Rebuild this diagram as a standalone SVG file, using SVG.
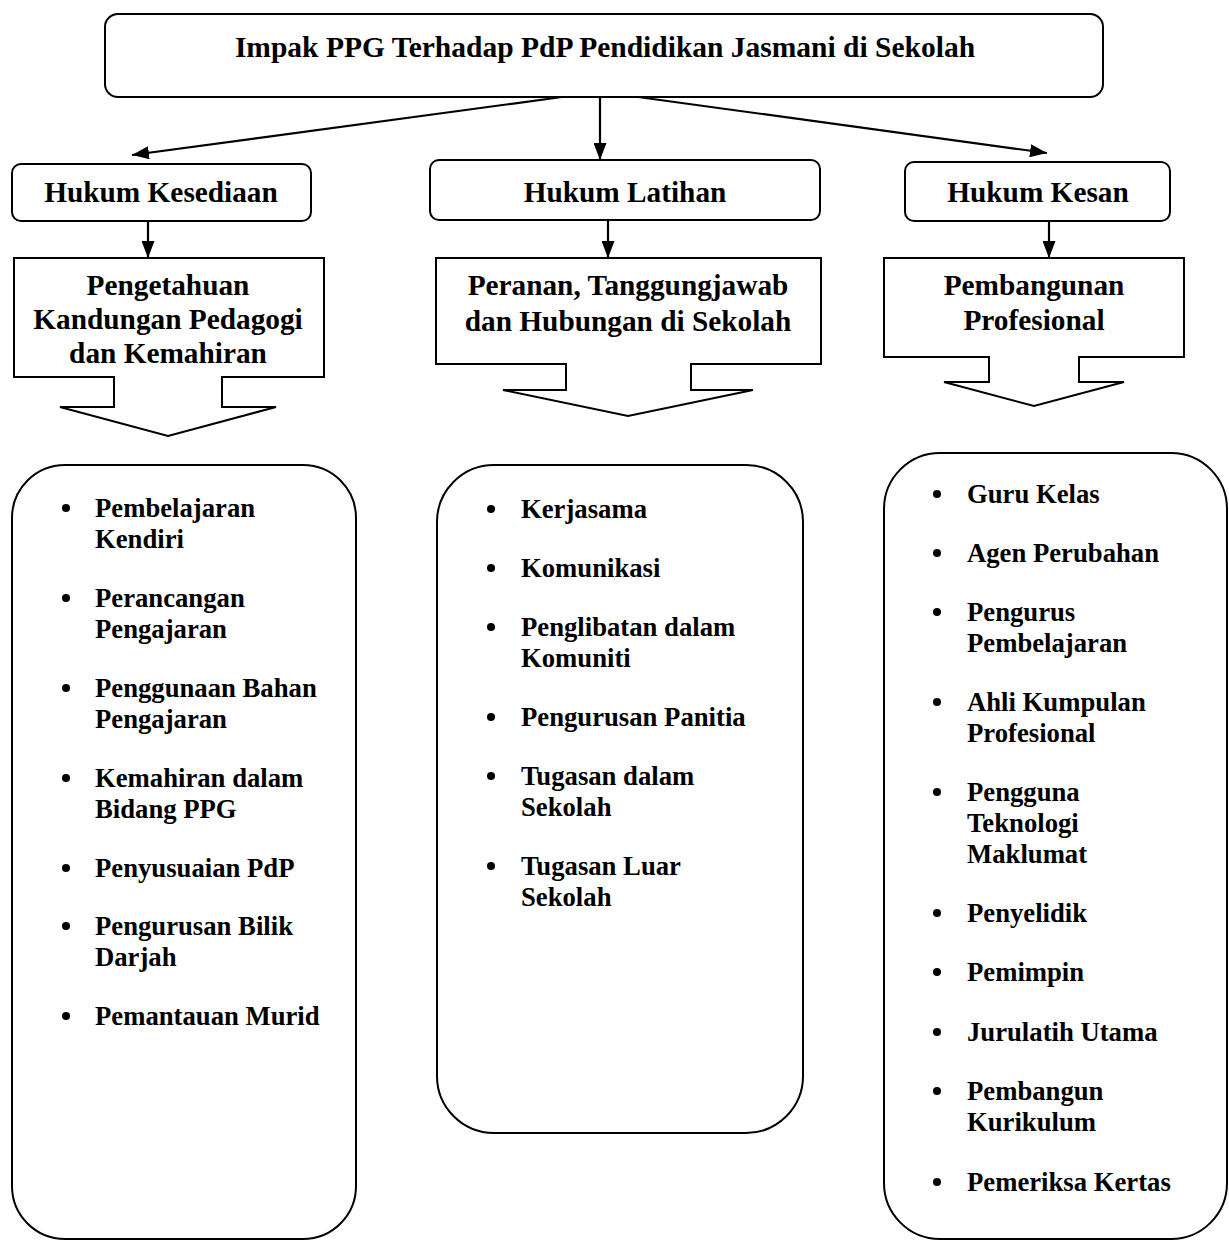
<svg xmlns="http://www.w3.org/2000/svg" width="1229" height="1240" viewBox="0 0 1229 1240">
<defs>
<marker id="ah" viewBox="0 0 17 13" refX="17" refY="6.5" markerWidth="17" markerHeight="13" markerUnits="userSpaceOnUse" orient="auto">
<path d="M0,0 L17,6.5 L0,13 Z" fill="#000"/>
</marker>
</defs>
<style>
.box{fill:#fff;stroke:#000;stroke-width:2}
.t{font-family:"Liberation Serif","Times New Roman",serif;font-weight:bold;fill:#000}
.h{font-size:29.3px;text-anchor:middle}
.b{font-size:26.7px}
.c{stroke:#000;stroke-width:2.2;fill:none;marker-end:url(#ah)}
</style>
<rect width="1229" height="1240" fill="#fff"/>
<g id="connectors">
<line class="c" x1="562" y1="97" x2="132" y2="155"/>
<line class="c" x1="600" y1="97" x2="600" y2="160"/>
<line class="c" x1="638" y1="97" x2="1047" y2="153"/>
<line class="c" x1="148" y1="221" x2="148" y2="258"/>
<line class="c" x1="608" y1="220" x2="608" y2="258"/>
<line class="c" x1="1049" y1="221" x2="1049" y2="258"/>
</g>
<g id="title">
<rect class="box" x="105" y="14" width="998" height="83" rx="13"/>
<text class="t h" x="605" y="57" style="font-size:29.5px">Impak PPG Terhadap PdP Pendidikan Jasmani di Sekolah</text>
</g>
<g id="hukum-kesediaan">
<rect class="box" x="12" y="164" width="299" height="57" rx="9"/>
<text class="t h" x="161" y="202">Hukum Kesediaan</text>
</g>
<g id="hukum-latihan">
<rect class="box" x="430" y="160" width="390" height="60" rx="9"/>
<text class="t h" x="625" y="202">Hukum Latihan</text>
</g>
<g id="hukum-kesan">
<rect class="box" x="905" y="162" width="265" height="59" rx="9"/>
<text class="t h" x="1038" y="202">Hukum Kesan</text>
</g>
<g id="pengetahuan">
<path class="box" d="M14,258 H324 V377 H222 V407 H276 L168,436 L60,407 H114 V377 H14 Z"/>
<text class="t h" x="168" y="295">Pengetahuan</text>
<text class="t h" x="168" y="329">Kandungan Pedagogi</text>
<text class="t h" x="168" y="363">dan Kemahiran</text>
</g>
<g id="peranan">
<path class="box" d="M436,258 H821 V364 H691 V390 H753 L628,416 L503,390 H566 V364 H436 Z"/>
<text class="t h" x="628" y="295">Peranan, Tanggungjawab</text>
<text class="t h" x="628" y="331">dan Hubungan di Sekolah</text>
</g>
<g id="pembangunan">
<path class="box" d="M884,258 H1184 V357 H1079 V382 H1124 L1034,406 L944,382 H989 V357 H884 Z"/>
<text class="t h" x="1034" y="295">Pembangunan</text>
<text class="t h" x="1034" y="330">Profesional</text>
</g>
<g id="list-kesediaan">
<rect class="box" x="12" y="465" width="344" height="774" rx="53"/>
<g fill="#000">
<circle cx="66" cy="508" r="4"/><circle cx="66" cy="598" r="4"/><circle cx="66" cy="688" r="4"/><circle cx="66" cy="778" r="4"/><circle cx="66" cy="868" r="4"/><circle cx="66" cy="926" r="4"/><circle cx="66" cy="1016" r="4"/>
</g>
<text class="t b"><tspan x="95" y="517">Pembelajaran</tspan><tspan x="95" y="548">Kendiri</tspan>
<tspan x="95" y="607">Perancangan</tspan><tspan x="95" y="638">Pengajaran</tspan>
<tspan x="95" y="697">Penggunaan Bahan</tspan><tspan x="95" y="728">Pengajaran</tspan>
<tspan x="95" y="787">Kemahiran dalam</tspan><tspan x="95" y="818">Bidang PPG</tspan>
<tspan x="95" y="877">Penyusuaian PdP</tspan>
<tspan x="95" y="935">Pengurusan Bilik</tspan><tspan x="95" y="966">Darjah</tspan>
<tspan x="95" y="1025">Pemantauan Murid</tspan></text>
</g>
<g id="list-latihan">
<rect class="box" x="437" y="465" width="366" height="668" rx="57"/>
<g fill="#000">
<circle cx="491" cy="509" r="4"/><circle cx="491" cy="568" r="4"/><circle cx="491" cy="627" r="4"/><circle cx="491" cy="717" r="4"/><circle cx="491" cy="776" r="4"/><circle cx="491" cy="866" r="4"/>
</g>
<text class="t b"><tspan x="521" y="518">Kerjasama</tspan>
<tspan x="521" y="577">Komunikasi</tspan>
<tspan x="521" y="636">Penglibatan dalam</tspan><tspan x="521" y="667">Komuniti</tspan>
<tspan x="521" y="726">Pengurusan Panitia</tspan>
<tspan x="521" y="785">Tugasan dalam</tspan><tspan x="521" y="816">Sekolah</tspan>
<tspan x="521" y="875">Tugasan Luar</tspan><tspan x="521" y="906">Sekolah</tspan></text>
</g>
<g id="list-kesan">
<rect class="box" x="884" y="453" width="343" height="786" rx="56"/>
<g fill="#000">
<circle cx="937" cy="494" r="4"/><circle cx="937" cy="553" r="4"/><circle cx="937" cy="612" r="4"/><circle cx="937" cy="702" r="4"/><circle cx="937" cy="792" r="4"/><circle cx="937" cy="913" r="4"/><circle cx="937" cy="972" r="4"/><circle cx="937" cy="1032" r="4"/><circle cx="937" cy="1091" r="4"/><circle cx="937" cy="1182" r="4"/>
</g>
<text class="t b"><tspan x="967" y="503">Guru Kelas</tspan>
<tspan x="967" y="562">Agen Perubahan</tspan>
<tspan x="967" y="621">Pengurus</tspan><tspan x="967" y="652">Pembelajaran</tspan>
<tspan x="967" y="711">Ahli Kumpulan</tspan><tspan x="967" y="742">Profesional</tspan>
<tspan x="967" y="801">Pengguna</tspan><tspan x="967" y="832">Teknologi</tspan><tspan x="967" y="863">Maklumat</tspan>
<tspan x="967" y="922">Penyelidik</tspan>
<tspan x="967" y="981">Pemimpin</tspan>
<tspan x="967" y="1041">Jurulatih Utama</tspan>
<tspan x="967" y="1100">Pembangun</tspan><tspan x="967" y="1131">Kurikulum</tspan>
<tspan x="967" y="1191">Pemeriksa Kertas</tspan></text>
</g>
</svg>
